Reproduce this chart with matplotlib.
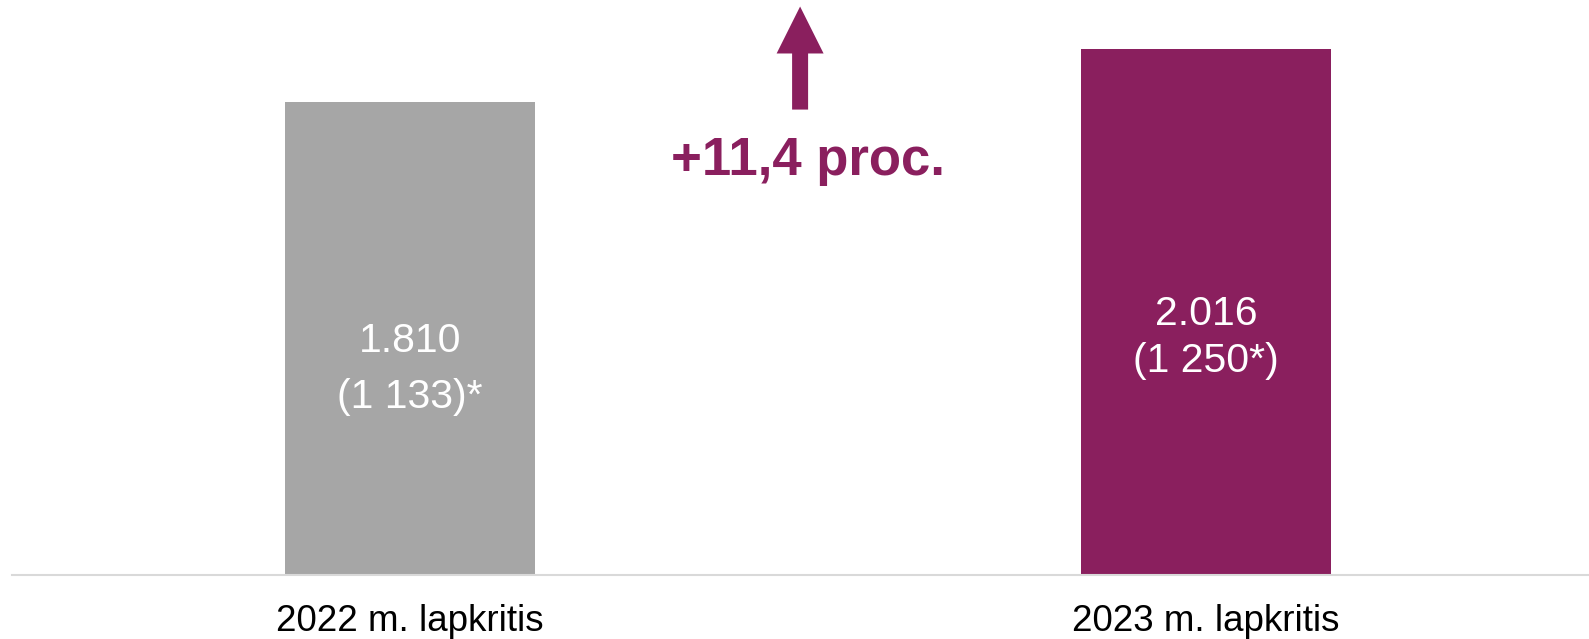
import matplotlib
matplotlib.use('Agg')
import matplotlib.pyplot as plt
from matplotlib.patches import FancyArrow

matplotlib.rcParams['font.family'] = ['Liberation Sans', 'DejaVu Sans']

# data
categories = ['2022 m. lapkritis', '2023 m. lapkritis']
values = [1810, 2016]
value_labels = ['1.810', '2.016']
sub_labels = ['(1 133)*', '(1 250*)']
change_text = '+11,4 proc.'

grey = '#A6A6A6'
purple = '#8A1F5E'
colors = [grey, purple]

fig = plt.figure(figsize=(15.89, 6.39), dpi=100)
ax = fig.add_axes([12 / 1589, 64.5 / 639, 1577 / 1589, 574.5 / 639])

x = [0, 1]
ax.bar(x, values, width=0.314, color=colors)

ax.set_xlim(-0.5, 1.481)
ax.set_ylim(0, 2202)

# labels inside the bars (two lines each)
line1_y = [851, 958]
line2_y = [640, 778]
for i in range(len(values)):
    ax.text(x[i], line1_y[i], value_labels[i], ha='center', va='baseline',
            color='white', fontsize=29.5)
    ax.text(x[i], line2_y[i], sub_labels[i], ha='center', va='baseline',
            color='white', fontsize=29.5)

# growth arrow + text
ax.add_patch(FancyArrow(0.49, 1782, 0, 2177 - 1782, width=0.0201,
                        head_width=0.059, head_length=180,
                        length_includes_head=True, color=purple, lw=0))
ax.text(0.5, 1533, change_text, ha='center', va='baseline', color=purple,
        fontsize=38, fontweight='bold')

# axes styling
for s in ['top', 'right', 'left']:
    ax.spines[s].set_visible(False)
ax.spines['bottom'].set_color('#D9D9D9')
ax.spines['bottom'].set_linewidth(1.5)
ax.set_yticks([])
ax.set_xticks(x)
ax.set_xticklabels(categories, fontsize=26.5)
ax.tick_params(axis='x', length=0, pad=21)

plt.savefig('out.png', dpi=100)
